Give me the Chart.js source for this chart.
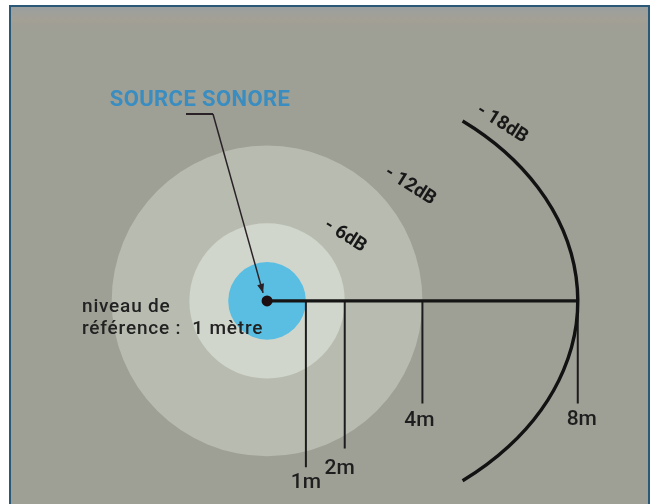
<!DOCTYPE html>
<html><head><meta charset="utf-8">
<script src="https://cdn.jsdelivr.net/npm/chart.js@4.4.1/dist/chart.umd.min.js"></script>
<style>html,body{margin:0;padding:0;background:#fff;overflow:hidden}canvas{display:block}</style>
</head><body>
<canvas id="c" width="658" height="504"></canvas>
<script>
// ---- data ----
const distances = [1, 2, 4, 8];                       // metres from the source
const distanceLabels = ['1m', '2m', '4m', '8m'];
const levels = [0, -6, -12, -18];                     // dB relative to the 1 m reference
const levelLabels = ['0dB', '- 6dB', '- 12dB', '- 18dB'];
const sourceLabel = 'SOURCE SONORE';
const refLabel = ['niveau de', 'référence :  1 mètre'];

// ---- layout / style (not data) ----
const W = 658, H = 504, PX_PER_M = 39.5, CX = 266, CY = 302;
const zoneColors = ['#59bee2', '#d1d6cc', '#b8bcb0'];
const tickDrop = [170, 151, 105, 105];                // px below the distance line
const labelDx = [0, -5, -3, 4];
const labelGap = [12, 17, 15, 14];
const dbOffsets = [null, [78, -65], [143, -115], [235, -177]];
const DB_ANGLE = 32 * Math.PI / 180;

const xMin = -CX / PX_PER_M, xMax = (W - CX) / PX_PER_M;
const yMax = CY / PX_PER_M, yMin = -(H - CY) / PX_PER_M;

function radiusPx(chart, d) {
  const s = chart.scales.x;
  return s.getPixelForValue(d) - s.getPixelForValue(0);
}

const datasets = [];
// filled zones (1 m, 2 m, 4 m) – larger zones drawn underneath
distances.slice(0, 3).forEach((d, i) => {
  datasets.push({
    data: [{x: 0, y: 0}],
    pointRadius: c => radiusPx(c.chart, d),
    pointHoverRadius: c => radiusPx(c.chart, d),
    pointBackgroundColor: zoneColors[i],
    pointBorderWidth: 0,
    pointBorderColor: 'rgba(0,0,0,0)',
    order: 10 + i
  });
});
// main distance line
datasets.push({
  data: [{x: 0, y: 0}, {x: distances[distances.length - 1], y: 0}],
  showLine: true, borderColor: '#151515', borderWidth: 3.2, pointRadius: 0, order: 5
});
// distance markers
distances.forEach((d, i) => {
  datasets.push({
    data: [{x: d, y: 0}, {x: d, y: -tickDrop[i] / PX_PER_M}],
    showLine: true, borderColor: '#1c1c1c', borderWidth: 2, pointRadius: 0, order: 6
  });
});
// source dot
datasets.push({
  data: [{x: 0, y: 0}], pointRadius: 5.5, pointBackgroundColor: '#1d0e12',
  pointBorderWidth: 0, order: 1
});

const bgPlugin = {
  id: 'bg',
  beforeDraw(chart) {
    const ctx = chart.ctx;
    ctx.save();
    ctx.fillStyle = '#ffffff';
    ctx.fillRect(0, 0, W, H);
    ctx.fillStyle = '#9e9f95';
    ctx.fillRect(10, 6, 639, H - 6);
    const g = ctx.createLinearGradient(0, 7, 0, 36);
    g.addColorStop(0, 'rgba(150,160,165,0.6)');
    g.addColorStop(0.45, 'rgba(170,160,150,0.45)');
    g.addColorStop(1, 'rgba(158,159,149,0)');
    ctx.fillStyle = g;
    ctx.fillRect(11, 7, 637, 30);
    ctx.strokeStyle = '#2c5878';
    ctx.lineWidth = 2;
    ctx.beginPath();
    ctx.moveTo(10, H); ctx.lineTo(10, 6); ctx.lineTo(649, 6); ctx.lineTo(649, H);
    ctx.stroke();
    ctx.restore();
  },
  afterDatasetsDraw(chart) {
    const ctx = chart.ctx;
    const xs = chart.scales.x, ys = chart.scales.y;
    const cx = xs.getPixelForValue(0), cy = ys.getPixelForValue(0);
    // -18 dB arc at 8 m
    const rx = radiusPx(chart, distances[3]);
    const ry = rx * 0.745;
    const t = 51 * Math.PI / 180;
    ctx.save();
    ctx.strokeStyle = '#121212';
    ctx.lineWidth = 3.4;
    ctx.beginPath();
    ctx.ellipse(cx, cy, rx, ry, 0, -t, t);
    ctx.stroke();

    // leader from label to source
    ctx.strokeStyle = '#2a2226';
    ctx.lineWidth = 2;
    ctx.beginPath();
    ctx.moveTo(186, 114); ctx.lineTo(213, 114);
    ctx.stroke();
    const tipX = cx - 4, tipY = cy - 8;
    ctx.lineWidth = 1.5;
    ctx.beginPath();
    ctx.moveTo(213, 114); ctx.lineTo(tipX, tipY);
    ctx.stroke();
    const ang = Math.atan2(tipY - 114, tipX - 213);
    ctx.fillStyle = '#2a2226';
    ctx.beginPath();
    ctx.moveTo(tipX, tipY);
    ctx.lineTo(tipX - 9 * Math.cos(ang) + 3.5 * Math.sin(ang), tipY - 9 * Math.sin(ang) - 3.5 * Math.cos(ang));
    ctx.lineTo(tipX - 9 * Math.cos(ang) - 3.5 * Math.sin(ang), tipY - 9 * Math.sin(ang) + 3.5 * Math.cos(ang));
    ctx.closePath();
    ctx.fill();
    ctx.restore();
  },
  afterDraw(chart) {
    const ctx = chart.ctx;
    const xs = chart.scales.x, ys = chart.scales.y;
    const cx = xs.getPixelForValue(0), cy = ys.getPixelForValue(0);
    ctx.save();
    // title label
    ctx.fillStyle = '#3a8dc0';
    ctx.font = 'bold 22px Roboto';
    ctx.letterSpacing = '0.4px';
    ctx.textAlign = 'center';
    ctx.textBaseline = 'middle';
    ctx.fillText(sourceLabel, 200, 100);

    // reference text
    ctx.fillStyle = '#222222';
    ctx.font = '500 19px Roboto';
    ctx.letterSpacing = '0.8px';
    ctx.textAlign = 'left';
    ctx.textBaseline = 'alphabetic';
    ctx.fillText(refLabel[0], 82, 312);
    ctx.fillText(refLabel[1], 82, 334);

    // distance labels
    ctx.letterSpacing = '0px';
    ctx.font = '500 21px Roboto';
    ctx.fillStyle = '#1e1e1e';
    ctx.textAlign = 'center';
    ctx.textBaseline = 'middle';
    distances.forEach((d, i) => {
      const x = xs.getPixelForValue(d) + labelDx[i];
      const y = cy + tickDrop[i] + labelGap[i];
      ctx.fillText(distanceLabels[i], x, y);
    });

    // dB labels
    ctx.font = 'bold 19px Roboto';
    ctx.fillStyle = '#181818';
    for (let i = 1; i < levels.length; i++) {
      const o = dbOffsets[i];
      ctx.save();
      ctx.translate(cx + o[0], cy + o[1]);
      ctx.rotate(DB_ANGLE);
      ctx.fillText(levelLabels[i], 0, 0);
      ctx.restore();
    }
    ctx.restore();
  }
};

new Chart(document.getElementById('c'), {
  type: 'scatter',
  data: { datasets },
  options: {
    responsive: false,
    animation: false,
    events: [],
    layout: { padding: 0 },
    plugins: { legend: { display: false }, tooltip: { enabled: false } },
    scales: {
      x: { type: 'linear', min: xMin, max: xMax, display: false },
      y: { type: 'linear', min: yMin, max: yMax, display: false }
    }
  },
  plugins: [bgPlugin]
});
</script>
</body></html>
